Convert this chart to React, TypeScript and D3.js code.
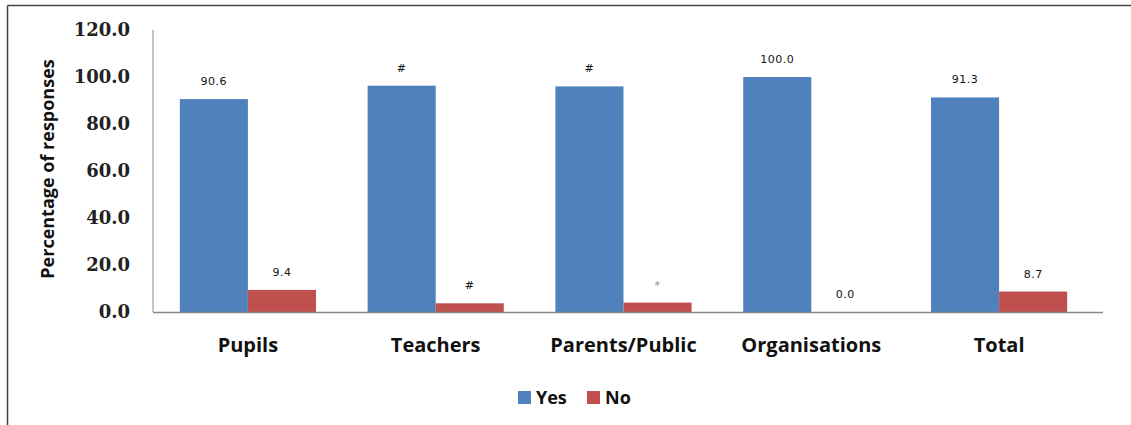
import React from "react";
import * as d3 from "d3";

const categories = ["Pupils", "Teachers", "Parents/Public", "Organisations", "Total"];
const yesValues = [90.6, 96.3, 96.0, 100.0, 91.3];
const noValues = [9.4, 3.7, 4.0, 0.0, 8.7];
const yesLabels = ["90.6", "#", "#", "100.0", "91.3"];
const noLabels = ["9.4", "#", "*", "0.0", "8.7"];
const yTicks = [0, 20, 40, 60, 80, 100, 120];
const seriesNames = ["Yes", "No"];
const colors = ["#4F81BD", "#C0504D"];

export default function App() {
  const W = 1131, H = 425;
  const left = 154, right = 1093, top = 30, bottom = 312;
  const y = d3.scaleLinear().domain([0, 120]).range([bottom, top]);
  const x0 = d3.scaleBand<string>().domain(categories).range([left, right]).paddingInner(0.275).paddingOuter(0.1375);
  const x1 = d3.scaleBand<string>().domain(seriesNames).range([0, x0.bandwidth()]);
  const series = [yesValues, noValues];
  const labels = [yesLabels, noLabels];
  const sans = "'Open Sans', Lato, sans-serif";
  return (
    <svg width={W} height={H} style={{ position: "absolute", left: 0, top: 0, background: "#fff" }}>
      <rect x={0} y={0} width={W} height={H} fill="#fff" />
      <line x1={7.5} y1={5.5} x2={W} y2={5.5} stroke="#444" strokeWidth={1.5} />
      <line x1={7.5} y1={5.5} x2={7.5} y2={H} stroke="#444" strokeWidth={1.5} />
      <line x1={left - 1} y1={top} x2={left - 1} y2={bottom} stroke="#888" strokeWidth={1} />
      {yTicks.map((t) => (
        <text key={t} x={130} y={y(t)} dy="0.35em" textAnchor="end"
          fontFamily="'DejaVu Serif', serif" fontWeight="bold" fontSize={18} fill="#222">
          {t.toFixed(1)}
        </text>
      ))}
      <text transform={`translate(54,${(top + bottom) / 2 - 2}) rotate(-90)`} textAnchor="middle"
        fontFamily={sans} fontWeight="bold" fontSize={18} fill="#111">
        Percentage of responses
      </text>
      {categories.map((c, i) => (
        <g key={c} transform={`translate(${x0(c)},0)`}>
          {series.map((s, j) => {
            const bx = x1(seriesNames[j])!;
            const bw = x1.bandwidth();
            return (
              <g key={j}>
                <rect x={bx} y={y(s[i])} width={bw} height={bottom - y(s[i])} fill={colors[j]} />
                <text x={bx + bw / 2} y={y(s[i]) - 14} textAnchor="middle"
                  fontFamily="'DejaVu Sans', sans-serif" fontSize={11} letterSpacing={0.5}
                  fill={labels[j][i] === "*" ? "#888" : "#111"}>
                  {labels[j][i]}
                </text>
              </g>
            );
          })}
          <text x={x0.bandwidth() / 2} y={352} textAnchor="middle"
            fontFamily={sans} fontWeight="bold" fontSize={20} fill="#111">
            {c}
          </text>
        </g>
      ))}
      <line x1={left - 1} y1={bottom + 0.5} x2={right + 10} y2={bottom + 0.5} stroke="#888" strokeWidth={1.5} />
      {seriesNames.map((n, j) => {
        const lx = [518, 587][j];
        return (
          <g key={n}>
            <rect x={lx} y={391} width={13} height={13} fill={colors[j]} />
            <text x={lx + 18} y={404} fontFamily={sans} fontWeight="bold" fontSize={18} fill="#111">{n}</text>
          </g>
        );
      })}
    </svg>
  );
}
